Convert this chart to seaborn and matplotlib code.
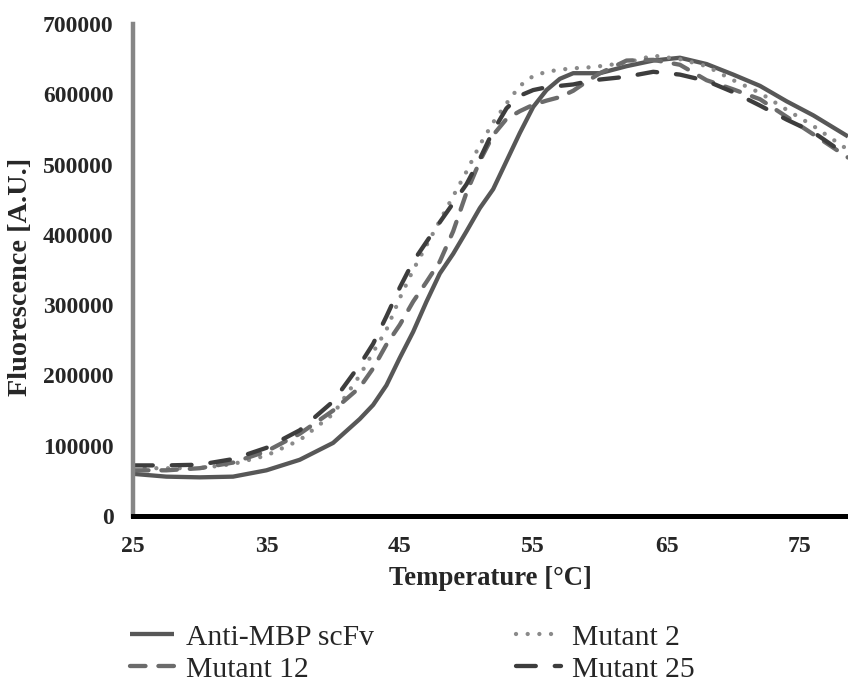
import matplotlib
matplotlib.use("Agg")
import matplotlib.pyplot as plt
import numpy as np
import pandas as pd
import seaborn as sns

# temperature grid (°C) and fluorescence readings (A.U.)
TEMPS = [25, 27.5, 30, 32.5, 35, 37.5, 40, 42, 43, 44, 45, 46, 47, 48, 49, 50,
         51, 52, 53, 54, 55, 56, 57, 58, 59, 60, 62, 64, 66, 68, 70, 72, 74, 76, 78.6]

ANTI_MBP = [60000, 56000, 55000, 56000, 65000, 80000, 104000, 138000, 158000, 186000,
            225000, 262000, 305000, 345000, 373000, 405000, 438000, 465000, 505000, 545000,
            582000, 606000, 622000, 630000, 630000, 630000, 640000, 648000, 652000, 643000,
            628000, 612000, 590000, 570000, 540000]

MUTANT_2 = [68000, 68000, 68000, 74000, 86000, 108000, 145000, 200000, 233000, 265000,
            310000, 350000, 385000, 420000, 455000, 490000, 528000, 560000, 587000, 612000,
            626000, 632000, 635000, 637000, 638000, 640000, 645000, 655000, 650000, 640000,
            620000, 602000, 578000, 555000, 521000]

MUTANT_12 = [65000, 65000, 68000, 76000, 92000, 117000, 150000, 183000, 210000, 244000,
             272000, 305000, 333000, 362000, 405000, 460000, 505000, 542000, 565000, 576000,
             585000, 591000, 596000, 605000, 618000, 630000, 648000, 649000, 642000, 620000,
             607000, 593000, 568000, 543000, 510000]

MUTANT_25 = [72000, 72000, 73000, 81000, 97000, 122000, 163000, 215000, 245000, 284000,
             325000, 362000, 390000, 418000, 445000, 472000, 508000, 548000, 580000, 598000,
             606000, 610000, 612000, 614000, 618000, 621000, 625000, 632000, 628000, 619000,
             603000, 584000, 564000, 546000, 512000]

SERIES = ["Anti-MBP scFv", "Mutant 2", "Mutant 12", "Mutant 25"]
VALUES = [ANTI_MBP, MUTANT_2, MUTANT_12, MUTANT_25]
COLORS = ["#575757", "#8a8a8a", "#6b6b6b", "#3d3d3d"]
STYLES = ["-", (0, (0.01, 2.7)), (0, (3.6, 3.0)), (0, (4.6, 4.4))]

Y_TICKS = [0, 100000, 200000, 300000, 400000, 500000, 600000, 700000]
X_TICKS = [25, 35, 45, 55, 65, 75]

sns.set_theme(style="white")
plt.rcParams["font.family"] = ["Liberation Serif", "DejaVu Serif"]

df = pd.DataFrame({"temp": TEMPS})
for name, vals in zip(SERIES, VALUES):
    df[name] = vals

W, H = 848, 683
fig = plt.figure(figsize=(W / 100, H / 100), dpi=100)
ax = fig.add_axes([133 / W, 1 - 516 / H, (W - 133) / W, (516 - 24) / H])

for name, color, ls in zip(SERIES, COLORS, STYLES):
    sns.lineplot(data=df, x="temp", y=name, ax=ax, color=color, lw=3.1,
                 linestyle=ls, dash_capstyle="round", solid_capstyle="butt",
                 label=name, legend=False)

ax.set_xlim(25, 78.6)
ax.set_ylim(0, 700000)
ax.set_xticks(X_TICKS)
ax.set_yticks(Y_TICKS)
ax.set_yticklabels([str(v) for v in Y_TICKS])
ax.tick_params(length=0, labelsize=17)
ax.tick_params(axis="y", pad=14)
ax.tick_params(axis="x", pad=14.5)
for lbl in ax.get_xticklabels() + ax.get_yticklabels():
    lbl.set_fontweight("bold")

ax.spines[["top", "right"]].set_visible(False)
ax.spines["left"].set_color("#868686")
ax.spines["left"].set_linewidth(3.2)
ax.spines["bottom"].set_color("black")
ax.spines["bottom"].set_linewidth(3.6)

ax.set_xlabel("Temperature [°C]", fontsize=19.3, fontweight="bold", va="baseline")
ax.set_ylabel("Fluorescence [A.U.]", fontsize=20.3, fontweight="bold", va="center")
ax.xaxis.set_label_coords(0.5, (516 - 585) / 492)
ax.yaxis.set_label_coords((20 - 133) / 715, (516 - 277) / 492)

handles, labels = ax.get_legend_handles_labels()
order = [0, 2, 1, 3]
fig.legend([handles[i] for i in order], [labels[i] for i in order],
           loc="upper left", bbox_to_anchor=(130 / W, 1 - 624 / H),
           ncol=2, frameon=False, fontsize=21.3, handlelength=1.5,
           handletextpad=0.4, columnspacing=4.8, labelspacing=0.18,
           borderpad=0, borderaxespad=0)

fig.savefig("out.png", dpi=100)
